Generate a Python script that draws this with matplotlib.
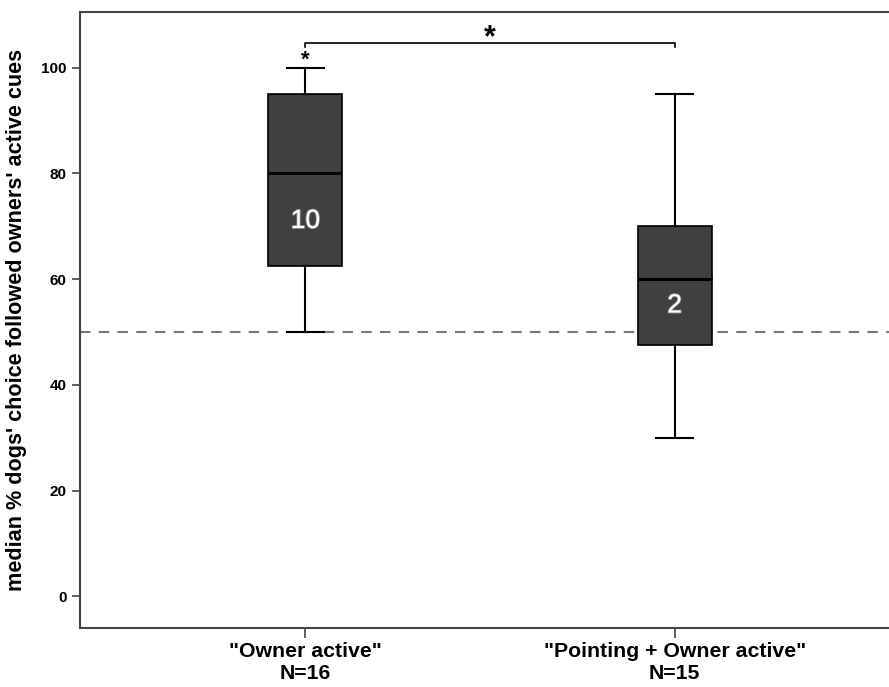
import matplotlib
matplotlib.use('Agg')
from matplotlib import pyplot as plt
import matplotlib.patheffects as pe

plt.rcParams['font.family'] = ['Liberation Sans', 'DejaVu Sans']

# box statistics
groups = ['"Owner active"\nN=16', '"Pointing + Owner active"\nN=15']
q1 = [62.5, 47.5]
med = [80, 60]
q3 = [95, 70]
whislo = [50, 30]
whishi = [100, 95]
box_counts = ['10', '2']
count_y = [71, 55]
chance = 50

stats = []
for i in range(len(groups)):
    stats.append({'med': med[i], 'q1': q1[i], 'q3': q3[i],
                  'whislo': whislo[i], 'whishi': whishi[i], 'fliers': []})

fig = plt.figure(figsize=(8.89, 6.87), dpi=100)
ax = fig.add_axes([0.09, 0.086, 0.912, 0.897])

ax.axhline(chance, color='#777777', ls=(0, (5, 4)), lw=1.5, zorder=1)

ax.bxp(stats, positions=[1, 2], widths=0.2, patch_artist=True, showfliers=False,
       boxprops=dict(facecolor='#404040', edgecolor='black', lw=1.2),
       medianprops=dict(color='black', lw=2.2),
       whiskerprops=dict(color='black', lw=1.5),
       capprops=dict(color='black', lw=1.5), capwidths=0.1, zorder=3)

for i in range(len(groups)):
    ax.text(i + 1, count_y[i], box_counts[i], ha='center', va='center',
            color='white', fontsize=19, zorder=4,
            path_effects=[pe.withStroke(linewidth=1.2, foreground='#999999')])

# significance markers
ax.plot([1, 1, 2, 2], [104.0, 104.7, 104.7, 104.0], color='black', lw=1.2)
ax.text(1.5, 105.6, '*', ha='center', va='center', fontsize=22, fontweight='bold')
ax.text(1, 101.4, '*', ha='center', va='center', fontsize=16, fontweight='bold')

ax.set_xlim(0.39, 2.585)
ax.set_ylim(-6, 110.6)
ax.set_yticks([0, 20, 40, 60, 80, 100])
ax.set_xticks([1, 2])
ax.set_xticklabels(groups, fontsize=15.3, fontweight='bold')
for lbl in ax.get_yticklabels():
    lbl.set_fontweight('bold')
ax.tick_params(axis='y', labelsize=11, length=6, width=1.2, color='#444444')
ax.tick_params(axis='x', length=7, width=1.2, color='#444444', pad=3)
ax.set_ylabel("median % dogs' choice followed owners' active cues",
              fontsize=15.6, fontweight='bold', labelpad=10)
for s in ax.spines.values():
    s.set_color('#444444')
    s.set_linewidth(1.5)
ax.spines['right'].set_visible(False)

plt.savefig('out.png', dpi=100)
